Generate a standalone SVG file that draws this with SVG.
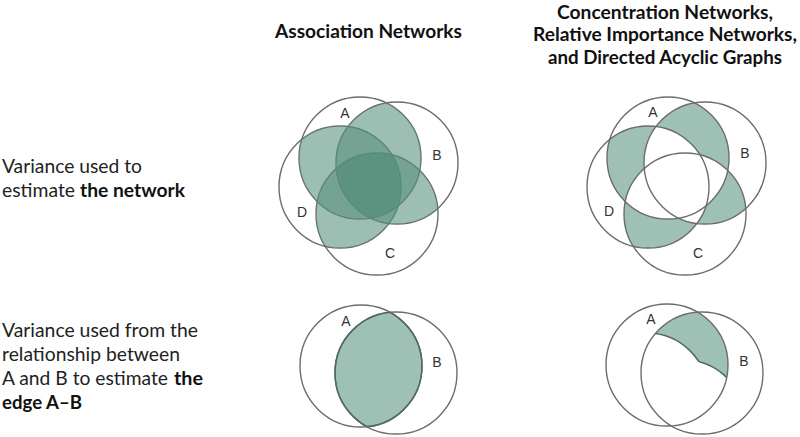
<svg xmlns="http://www.w3.org/2000/svg" width="800" height="437" viewBox="0 0 800 437">
<style>
.bg{fill:#ffffff}
.ol{fill:none;stroke:#6c6c6c;stroke-width:1.4}
.dk{fill:none;stroke:#4f6a62;stroke-width:1.5}
.flat{fill:#9fc1b5}
.tint{fill:#568f7c;fill-opacity:0.58}
.lbl{font-family:"Liberation Sans",Arial,sans-serif;font-size:14px;fill:#333333;text-anchor:middle}
.hd{font-family:Lato,"Open Sans",sans-serif;font-size:19px;font-weight:bold;fill:#111111;text-anchor:middle}
.tx{font-family:Lato,"Open Sans",sans-serif;font-size:19px;fill:#222222}
.tb{font-family:Lato,"Open Sans",sans-serif;font-size:19px;font-weight:bold;fill:#111111}
</style>
<defs>
<clipPath id="cLA"><circle cx="360" cy="158" r="61"/></clipPath>
<clipPath id="cLB"><circle cx="397" cy="163" r="61"/></clipPath>
<clipPath id="cLC"><circle cx="377" cy="214" r="61"/></clipPath>
<clipPath id="cLD"><circle cx="340" cy="187" r="61"/></clipPath>
<clipPath id="cRA"><circle cx="668" cy="158" r="61"/></clipPath>
<clipPath id="cRB"><circle cx="705" cy="163" r="61"/></clipPath>
<clipPath id="cRC"><circle cx="685" cy="214" r="61"/></clipPath>
<clipPath id="cRD"><circle cx="648" cy="187" r="61"/></clipPath>
<mask id="mRAB" maskUnits="userSpaceOnUse" x="0" y="0" width="800" height="437"><rect width="800" height="437" fill="#fff"/><circle cx="685" cy="214" r="61" fill="#000"/><circle cx="648" cy="187" r="61" fill="#000"/></mask>
<mask id="mRBC" maskUnits="userSpaceOnUse" x="0" y="0" width="800" height="437"><rect width="800" height="437" fill="#fff"/><circle cx="668" cy="158" r="61" fill="#000"/><circle cx="648" cy="187" r="61" fill="#000"/></mask>
<mask id="mRCD" maskUnits="userSpaceOnUse" x="0" y="0" width="800" height="437"><rect width="800" height="437" fill="#fff"/><circle cx="668" cy="158" r="61" fill="#000"/><circle cx="705" cy="163" r="61" fill="#000"/></mask>
<mask id="mRDA" maskUnits="userSpaceOnUse" x="0" y="0" width="800" height="437"><rect width="800" height="437" fill="#fff"/><circle cx="705" cy="163" r="61" fill="#000"/><circle cx="685" cy="214" r="61" fill="#000"/></mask>
<clipPath id="cBLA"><circle cx="361" cy="366" r="61"/></clipPath>
<clipPath id="cBLB"><circle cx="396" cy="373" r="61"/></clipPath>
<clipPath id="cBRA"><circle cx="667" cy="365" r="61"/></clipPath>
<clipPath id="cBRB"><circle cx="702" cy="373" r="61"/></clipPath>
<mask id="mBRcd" maskUnits="userSpaceOnUse" x="0" y="0" width="800" height="437"><rect width="800" height="437" fill="#fff"/><circle cx="684" cy="421" r="61" fill="#000"/><circle cx="647" cy="394" r="61" fill="#000"/></mask>
<mask id="mBRc" maskUnits="userSpaceOnUse" x="0" y="0" width="800" height="437"><rect width="800" height="437" fill="#fff"/><circle cx="684" cy="421" r="61" fill="#000"/></mask>
<mask id="mBRd" maskUnits="userSpaceOnUse" x="0" y="0" width="800" height="437"><rect width="800" height="437" fill="#fff"/><circle cx="647" cy="394" r="61" fill="#000"/></mask>
</defs>
<rect class="bg" width="800" height="437"/>

<g id="headings">
<text class="hd" x="368.5" y="38" textLength="187" lengthAdjust="spacingAndGlyphs">Association Networks</text>
<text class="hd" x="665" y="19" textLength="216" lengthAdjust="spacingAndGlyphs">Concentration Networks,</text>
<text class="hd" x="665" y="41" textLength="264" lengthAdjust="spacingAndGlyphs">Relative Importance Networks,</text>
<text class="hd" x="665" y="64" textLength="234" lengthAdjust="spacingAndGlyphs">and Directed Acyclic Graphs</text>
</g>

<g id="row-labels">
<text class="tx" x="2" y="173" textLength="140" lengthAdjust="spacingAndGlyphs">Variance used to</text>
<text class="tx" x="2" y="197" textLength="73" lengthAdjust="spacingAndGlyphs">estimate</text>
<text class="tb" x="80" y="197" textLength="105" lengthAdjust="spacingAndGlyphs">the network</text>
<text class="tx" x="2" y="337" textLength="196" lengthAdjust="spacingAndGlyphs">Variance used from the</text>
<text class="tx" x="2" y="361" textLength="178" lengthAdjust="spacingAndGlyphs">relationship between</text>
<text class="tx" x="2" y="385" textLength="166" lengthAdjust="spacingAndGlyphs">A and B to estimate</text>
<text class="tb" x="174" y="385" textLength="29" lengthAdjust="spacingAndGlyphs">the</text>
<text class="tb" x="2" y="409" textLength="80" lengthAdjust="spacingAndGlyphs">edge A–B</text>
</g>

<g id="venn-association-network">
<circle class="ol" cx="360" cy="158" r="61"/>
<circle class="ol" cx="397" cy="163" r="61"/>
<circle class="ol" cx="377" cy="214" r="61"/>
<circle class="ol" cx="340" cy="187" r="61"/>
<g clip-path="url(#cLA)"><circle class="tint" cx="397" cy="163" r="61"/></g>
<g clip-path="url(#cLB)"><circle class="tint" cx="377" cy="214" r="61"/></g>
<g clip-path="url(#cLC)"><circle class="tint" cx="340" cy="187" r="61"/></g>
<g clip-path="url(#cLD)"><circle class="tint" cx="360" cy="158" r="61"/></g>
<text class="lbl" x="345" y="118">A</text>
<text class="lbl" x="437" y="160">B</text>
<text class="lbl" x="390" y="258">C</text>
<text class="lbl" x="302" y="217">D</text>
</g>

<g id="venn-concentration-network">
<g clip-path="url(#cRA)"><g mask="url(#mRAB)"><circle class="flat" cx="705" cy="163" r="61"/></g></g>
<g clip-path="url(#cRB)"><g mask="url(#mRBC)"><circle class="flat" cx="685" cy="214" r="61"/></g></g>
<g clip-path="url(#cRC)"><g mask="url(#mRCD)"><circle class="flat" cx="648" cy="187" r="61"/></g></g>
<g clip-path="url(#cRD)"><g mask="url(#mRDA)"><circle class="flat" cx="668" cy="158" r="61"/></g></g>
<circle class="ol" cx="668" cy="158" r="61"/>
<circle class="ol" cx="705" cy="163" r="61"/>
<circle class="ol" cx="685" cy="214" r="61"/>
<circle class="ol" cx="648" cy="187" r="61"/>
<text class="lbl" x="653" y="117">A</text>
<text class="lbl" x="745" y="158">B</text>
<text class="lbl" x="698" y="258">C</text>
<text class="lbl" x="609" y="216">D</text>
</g>

<g id="venn-association-edge">
<g clip-path="url(#cBLA)"><circle class="flat" cx="396" cy="373" r="61"/></g>
<circle class="ol" cx="361" cy="366" r="61"/>
<circle class="ol" cx="396" cy="373" r="61"/>
<g clip-path="url(#cBLA)"><circle class="dk" cx="396" cy="373" r="61"/></g>
<g clip-path="url(#cBLB)"><circle class="dk" cx="361" cy="366" r="61"/></g>
<text class="lbl" x="346" y="326">A</text>
<text class="lbl" x="437" y="367">B</text>
</g>

<g id="venn-concentration-edge">
<g clip-path="url(#cBRA)"><g mask="url(#mBRcd)"><circle class="flat" cx="702" cy="373" r="61"/></g></g>
<circle class="ol" cx="667" cy="365" r="61"/>
<circle class="ol" cx="702" cy="373" r="61"/>
<g clip-path="url(#cBRA)"><g clip-path="url(#cBRB)"><g mask="url(#mBRc)"><circle class="dk" cx="647" cy="394" r="61"/></g></g></g>
<g clip-path="url(#cBRA)"><g clip-path="url(#cBRB)"><g mask="url(#mBRd)"><circle class="dk" cx="684" cy="421" r="61"/></g></g></g>
<text class="lbl" x="651" y="324">A</text>
<text class="lbl" x="744" y="366">B</text>
</g>
</svg>
